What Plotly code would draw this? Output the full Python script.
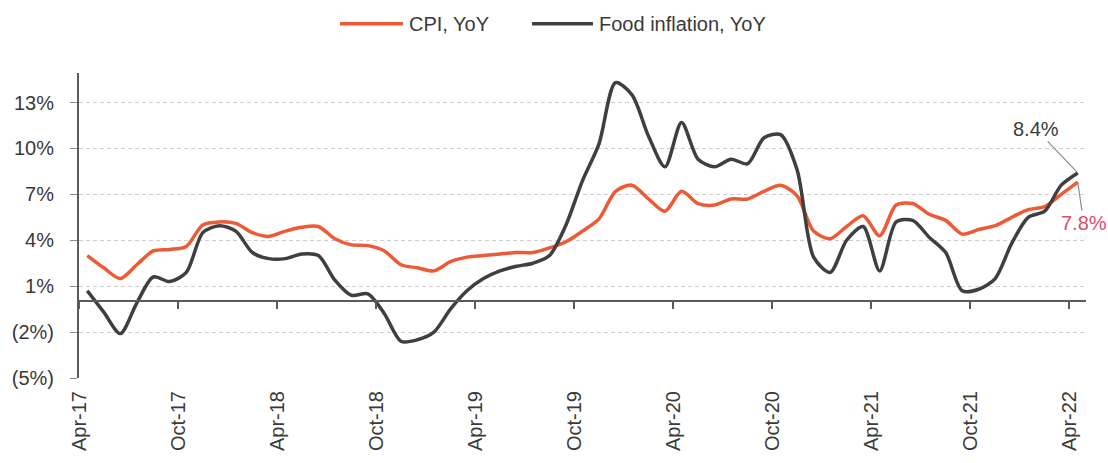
import plotly.graph_objects as go

# Monthly series, Apr-17 .. Apr-22 (61 months)
n_months = 61

cpi_yoy = [
    3.0, 2.2, 1.5, 2.4, 3.3, 3.4, 3.6, 5.0, 5.2, 5.1,
    4.5, 4.25, 4.6, 4.85, 4.9, 4.1, 3.7, 3.65, 3.3, 2.4,
    2.2, 2.0, 2.6, 2.9, 3.0, 3.1, 3.2, 3.2, 3.5, 3.9,
    4.6, 5.4, 7.2, 7.6, 6.7, 5.9, 7.2, 6.4, 6.3, 6.7,
    6.7, 7.2, 7.6, 6.9, 4.6, 4.1, 4.9, 5.6, 4.3, 6.3,
    6.4, 5.7, 5.3, 4.4, 4.7, 4.95, 5.5, 6.0, 6.2, 7.0,
    7.8,
]

food_yoy = [
    0.7, -0.7, -2.1, -0.1, 1.6, 1.3, 1.9, 4.5, 4.95, 4.6,
    3.2, 2.8, 2.8, 3.1, 3.0, 1.4, 0.4, 0.5, -0.8, -2.6,
    -2.5, -2.0, -0.5, 0.7, 1.5, 2.0, 2.3, 2.5, 3.0, 5.0,
    7.9, 10.3, 14.3, 13.5, 10.8, 8.8, 11.7, 9.3, 8.8, 9.3,
    9.0, 10.7, 10.9, 8.6, 2.9, 1.9, 4.0, 4.9, 2.0, 5.2,
    5.3, 4.2, 3.2, 0.7, 0.8, 1.5, 3.8, 5.5, 5.9, 7.6,
    8.4,
]

x_tick_labels = ["Apr-17", "Oct-17", "Apr-18", "Oct-18", "Apr-19", "Oct-19",
                 "Apr-20", "Oct-20", "Apr-21", "Oct-21", "Apr-22"]
y_tick_values = [13, 10, 7, 4, 1, -2, -5]
y_tick_labels = ["13%", "10%", "7%", "4%", "1%", "(2%)", "(5%)"]

series_names = ["CPI, YoY", "Food inflation, YoY"]

CPI_COLOR = "#ee5a35"
FOOD_COLOR = "#3f3f3f"
LABEL_RED = "#d9506a"
TEXT_COLOR = "#3a3a3a"
FONT = "Liberation Sans, Arial, sans-serif"

# Each month occupies one unit; points sit in the middle of their month
x_pos = [i + 0.5 for i in range(n_months)]
x_ticks = [i * 6 for i in range(len(x_tick_labels))]

y_min, y_max = -5, 14.93
zero_pos = (0 - y_min) / (y_max - y_min)

fig = go.Figure()
fig.add_trace(go.Scatter(
    x=x_pos, y=cpi_yoy, mode="lines", name=series_names[0],
    line=dict(color=CPI_COLOR, width=3.5, shape="spline", smoothing=0.8),
    showlegend=False,
))
fig.add_trace(go.Scatter(
    x=x_pos, y=food_yoy, mode="lines", name=series_names[1],
    line=dict(color=FOOD_COLOR, width=3.5, shape="spline", smoothing=0.8),
    showlegend=False,
))

# Legend drawn as line samples with labels above the plot
legend_y = 1.1613
legend_items = [
    (series_names[0], CPI_COLOR, 0.2592, 0.3217),
    (series_names[1], FOOD_COLOR, 0.4499, 0.5104),
]
shapes = []
annotations = []
for name, color, x0, x1 in legend_items:
    shapes.append(dict(type="line", xref="paper", yref="paper",
                       x0=x0, x1=x1, y0=legend_y, y1=legend_y,
                       line=dict(color=color, width=3.5)))
    annotations.append(dict(xref="paper", yref="paper", x=x1 + 0.004, y=legend_y,
                            text=name, showarrow=False, xanchor="left", yanchor="middle",
                            font=dict(family=FONT, size=20, color=TEXT_COLOR)))

# End-point value callouts
annotations.append(dict(
    x=x_pos[-1], y=food_yoy[-1], xref="x", yref="y",
    text=f"{food_yoy[-1]}%", showarrow=True, arrowhead=0, arrowwidth=1.2,
    arrowcolor="#8c8c8c", ax=-42, ay=-44,
    font=dict(family=FONT, size=20, color=TEXT_COLOR),
))
annotations.append(dict(
    x=x_pos[-1], y=cpi_yoy[-1], xref="x", yref="y",
    text=f"{cpi_yoy[-1]}%", showarrow=True, arrowhead=0, arrowwidth=1.2,
    arrowcolor="#8c8c8c", ax=6, ay=41,
    font=dict(family=FONT, size=20, color=LABEL_RED),
))

fig.update_layout(
    width=1108, height=463,
    margin=dict(l=79, r=22, t=73, b=80),
    paper_bgcolor="white", plot_bgcolor="white",
    font=dict(family=FONT, size=20, color=TEXT_COLOR),
    shapes=shapes,
    annotations=annotations,
    xaxis=dict(
        range=[0, n_months], tickvals=x_ticks, ticktext=x_tick_labels,
        tickangle=-90, showgrid=False, showline=False, zeroline=False,
        ticks="", ticklabelstandoff=8,
        tickfont=dict(family=FONT, size=20, color=TEXT_COLOR),
    ),
    # Category axis line drawn through zero with its tick marks
    xaxis2=dict(
        overlaying="x", anchor="free", position=zero_pos, side="bottom",
        range=[0, n_months], tickvals=x_ticks, showticklabels=False,
        showline=True, linecolor="#5a5a5a", linewidth=2,
        ticks="outside", ticklen=7, tickwidth=1.5, tickcolor="#5a5a5a",
        showgrid=False, zeroline=False,
    ),
    yaxis=dict(
        range=[y_min, y_max], tickvals=y_tick_values, ticktext=y_tick_labels,
        showgrid=True, gridcolor="#cfcfcf", gridwidth=1, griddash="4px,3px",
        showline=True, linecolor="#5a5a5a", linewidth=2,
        ticks="outside", ticklen=7, tickcolor="#8a8a8a", tickwidth=1,
        zeroline=False, ticklabelstandoff=12,
        tickfont=dict(family=FONT, size=20, color=TEXT_COLOR),
    ),
)

# Invisible trace to bind the zero-line axis
fig.add_trace(go.Scatter(x=[0, n_months], y=[0, 0], xaxis="x2", mode="lines",
                         line=dict(width=0), hoverinfo="skip", showlegend=False))

fig.write_html("out.html")
